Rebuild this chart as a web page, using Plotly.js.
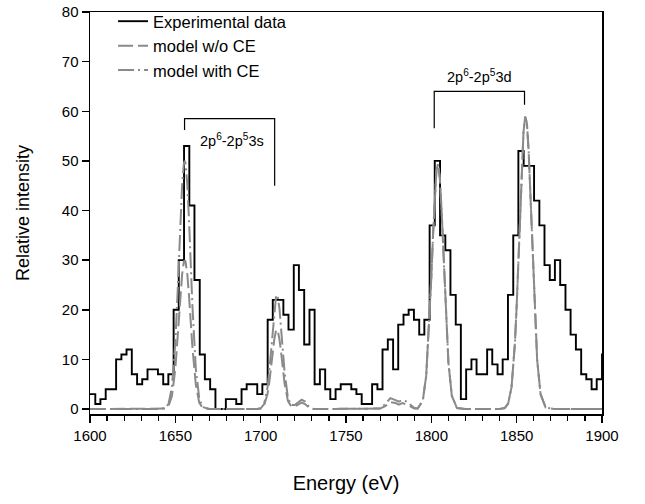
<!DOCTYPE html>
<html>
<head>
<meta charset="utf-8">
<script src="https://cdn.plot.ly/plotly-3.0.1.min.js"></script>
<style>html,body{margin:0;padding:0;background:#fff;}#chart{width:645px;height:504px;}</style>
</head>
<body>
<div id="chart"></div>
<script>
// Experimental histogram: bin start energies (eV) and counts
const binEnergy = [1600.0,1603.1,1606.1,1609.2,1612.2,1615.3,1618.4,1621.4,1624.5,1627.6,
  1630.6,1633.7,1636.7,1639.8,1642.9,1645.9,1649.0,1652.0,1655.1,1658.2,
  1661.2,1664.3,1667.3,1670.4,1673.5,1676.5,1679.6,1682.7,1685.7,1688.8,
  1691.8,1694.9,1698.0,1701.0,1704.1,1707.1,1710.2,1713.3,1716.3,1719.4,
  1722.4,1725.5,1728.6,1731.6,1734.7,1737.8,1740.8,1743.9,1746.9,1750.0,
  1753.1,1756.1,1759.2,1762.2,1765.3,1768.4,1771.4,1774.5,1777.6,1780.6,
  1783.7,1786.7,1789.8,1792.9,1795.9,1799.0,1802.0,1805.1,1808.2,1811.2,
  1814.3,1817.3,1820.4,1823.5,1826.5,1829.6,1832.7,1835.7,1838.8,1841.8,
  1844.9,1848.0,1851.0,1854.1,1857.1,1860.2,1863.3,1866.3,1869.4,1872.4,
  1875.5,1878.6,1881.6,1884.7,1887.8,1890.8,1893.9,1896.9,1900.0,1903.0];
const binCounts = [3,1,2,4,4,10,11,12,7,5,
  6,8,8,7,5,7,20,30,53,41,
  26,11,6,4,0,0,2,2,1,4,
  5,5,3,5,18,22,22,19,16,29,
  24,13,20,5,8,4,2,4,5,5,
  4,3,1,1,5,4,12,14,8,17,
  19,20,18,15,18,37,50,35,32,23,
  17,2,8,10,7,7,12,9,7,10,
  23,35,52,49,49,42,37,29,26,30,
  25,20,15,12,7,6,4,6,11,11];

// Model curves
const modelEnergy = [1600,1640,1644,1646,1648,1650,1651,1652,1653,1654,1655,1655.5,1656,1657,1658,1659,1660,1662,1664,1666,1670,
  1698,1700,1702,1704,1705,1706,1707,1708,1709,1709.5,1710,1711,1712,1713,1714,1716,1718,1720,1722,1724,1726,1728,1731,
  1768,1770,1773,1776,1779,1781,1783,1785,1788,1790,1792,1795,1797,1799,1800,1801,1802,1803,1804,1805,1806,1807,1808,1810,1812,1815,1820,
  1840,1843,1845,1847,1849,1850,1851,1852,1853,1854,1855,1856,1857,1858,1859,1860,1862,1864,1867,1872,1900];
const modelWithCE = [0,0,0.2,1.0,4.4,13.5,20.8,29.5,38.2,45.3,49.5,50,49.5,45.3,38.2,29.5,20.8,8.1,2.2,0.4,0,
  0,0.15,1.0,4.3,7.5,11.6,16.3,20.3,22.7,23,22.7,20.3,16.3,11.6,7.5,2.2,0.8,0.8,1.4,1.9,1.5,0.6,0,
  0,0.1,1.0,2.2,1.8,1.5,1.8,1.6,0.8,0.2,0.1,1.7,6.7,18.3,26.5,35.2,43.0,48.2,49.4,46.5,40.1,31.8,23.1,9.4,2.7,0.2,0,
  0,0.2,1.1,4.4,13.4,20.8,29.9,39.7,49.0,55.8,58.9,57.6,52.1,43.6,33.8,24.2,9.9,3.0,0.3,0,0];
const modelNoCE = [0,0,0.1,0.6,2.6,8.1,12.5,17.7,22.9,27.2,29.7,30,29.7,27.2,22.9,17.7,12.5,4.9,1.3,0.2,0,
  0,0.1,0.7,3.0,5.2,8.1,11.3,14.1,15.8,16,15.8,14.1,11.3,8.1,5.2,1.6,0.5,0.5,0.9,1.3,1.0,0.4,0,
  0,0.1,0.6,1.4,1.2,0.9,1.2,1.0,0.5,0.1,0.1,1.7,6.7,18.3,26.5,35.2,43.0,48.2,49.4,46.5,40.1,31.8,23.1,9.4,2.7,0.2,0,
  0,0.2,1.1,4.4,13.4,20.8,29.9,39.7,49.0,55.8,58.9,57.6,52.1,43.6,33.8,24.2,9.9,3.0,0.3,0,0];

const seriesNames = ['Experimental data','model w/o CE','model with CE'];
const transitionLabels = ['2p<sup>6</sup>-2p<sup>5</sup>3s','2p<sup>6</sup>-2p<sup>5</sup>3d'];

const FONT = 'Liberation Sans, Arial, Helvetica, sans-serif';
const GRAY = '#8a8a8a';

const traces = [
  {x: binEnergy, y: binCounts, type: 'scatter', mode: 'lines', line: {shape: 'hv', color: '#000', width: 1.9},
   name: seriesNames[0], legendgroup: 'a'},
  {x: modelEnergy, y: modelNoCE, type: 'scatter', mode: 'lines', line: {color: GRAY, width: 2, dash: '15px,5px'},
   name: seriesNames[1], legendgroup: 'b'},
  {x: modelEnergy, y: modelWithCE, type: 'scatter', mode: 'lines', line: {color: GRAY, width: 2, dash: '16px,4px,2px,4px'},
   name: seriesNames[2], legendgroup: 'c'}
];

const lineStyle = {color: '#000', width: 1.2};
const layout = {
  width: 645, height: 504,
  margin: {l: 90, r: 43, t: 12, b: 90, autoexpand: false},
  paper_bgcolor: '#fff', plot_bgcolor: '#fff',
  font: {family: FONT, color: '#000', size: 15},
  showlegend: true,
  legend: {x: 0.045, y: 1.02, xanchor: 'left', yanchor: 'top', bgcolor: 'rgba(0,0,0,0)',
    font: {family: FONT, size: 16.5, color: '#000'}, traceorder: 'grouped', tracegroupgap: 0},
  xaxis: {range: [1600, 1900], showgrid: false, zeroline: false, showline: true, linecolor: '#000', linewidth: 1.5,
    mirror: true, ticks: 'outside', ticklen: 7, tickwidth: 1.5, tickcolor: '#000', dtick: 50, tick0: 1600,
    tickfont: {size: 15, family: FONT},
    minor: {dtick: 10, ticks: 'outside', ticklen: 5, tickwidth: 1.2, tickcolor: '#000'},
    title: {text: 'Energy (eV)', font: {size: 20, family: FONT}, standoff: 33}},
  yaxis: {range: [-1, 80], showgrid: false, zeroline: false, showline: true, linecolor: '#000', linewidth: 1.5,
    mirror: true, ticks: 'outside', ticklen: 7, tickwidth: 1.5, tickcolor: '#000', dtick: 10, tick0: 0,
    tickfont: {size: 15, family: FONT},
    title: {text: 'Relative intensity', font: {size: 18, family: FONT}, standoff: 27}},
  shapes: [
    {type: 'path', xref: 'x', yref: 'y', path: 'M1655.4,56.2 L1655.4,58.5 L1708.2,58.5 L1708.2,45', line: lineStyle},
    {type: 'path', xref: 'x', yref: 'y', path: 'M1801.7,56.6 L1801.7,64 L1854.6,64 L1854.6,61.3', line: lineStyle}
  ],
  annotations: [
    {x: 1683, y: 54.2, xref: 'x', yref: 'y', text: transitionLabels[0], showarrow: false, font: {size: 14.5, family: FONT}},
    {x: 1828, y: 67.2, xref: 'x', yref: 'y', text: transitionLabels[1], showarrow: false, font: {size: 14.5, family: FONT}}
  ]
};

Plotly.newPlot('chart', traces, layout, {displayModeBar: false, staticPlot: true});
</script>
</body>
</html>
